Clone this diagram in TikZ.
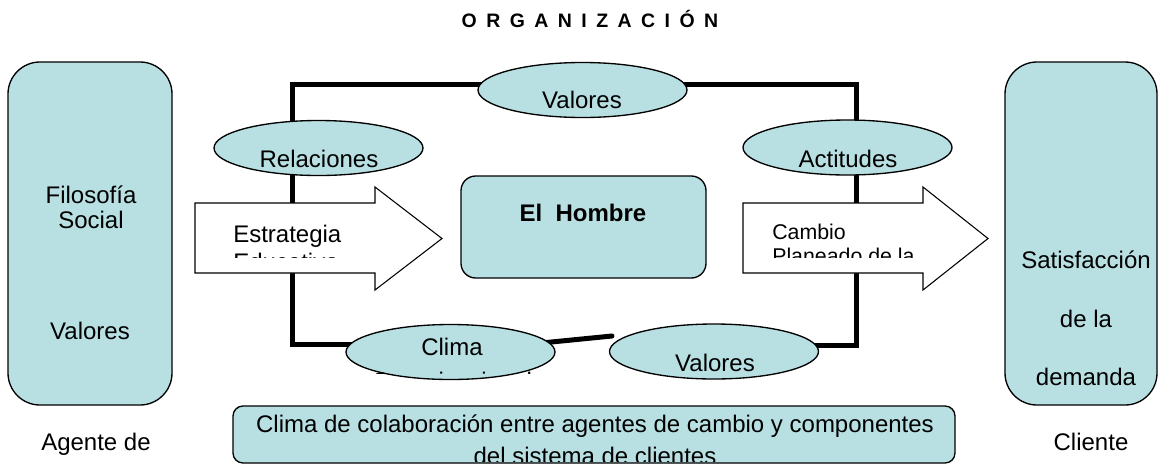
\documentclass[tikz,border=0pt]{standalone}
\usepackage{fontspec}
\setmainfont{Liberation Sans}
\newfontfamily\titulofont[WordSpace=1.75]{Liberation Sans}
\usetikzlibrary{shapes.geometric,backgrounds}

\definecolor{celeste}{RGB}{184,224,227}
\newcommand{\pxu}{0.75pt}
\newcommand{\letra}{\fontsize{18}{18.75}\selectfont}

\tikzset{
  caja/.style={draw, fill=celeste, line width=1pt, inner sep=0pt},
  ovalo/.style={draw, fill=celeste, ellipse, line width=1pt, inner sep=0pt,
    minimum width=209*\pxu, minimum height=55*\pxu},
  lazo/.style={line width=5*\pxu},
  flecha/.style={draw, fill=white, line width=0.8pt},
  texto/.style={anchor=base, inner sep=0pt, font=\letra},
}

\begin{document}
\begin{tikzpicture}[x=\pxu, y=-\pxu]
\useasboundingbox (0,0) rectangle (1161,465);

%% Titulo
\node[anchor=base, inner sep=0pt,
  font=\titulofont\fontsize{14.6}{16}\selectfont\bfseries] (titulo)
  at (590,27) {O R G A N I Z A C I Ó N};

%% Agente de cambio (izquierda)
\node[caja, rounded corners=24pt, minimum width=164*\pxu,
  minimum height=343*\pxu] (filosofia) at (90,233.5) {};
\node[texto, align=center] (filotxt) at (91,228) {Filosofía\\Social};
\node[texto] (valizq) at (90,339) {Valores};
\node[texto] (agente) at (96,450) {Agente de};

%% Cliente (derecha)
\node[caja, rounded corners=24pt, minimum width=152*\pxu,
  minimum height=343*\pxu] (satisf) at (1081,233.5) {};
\node[texto] (satis1) at (1086,268) {Satisfacción};
\node[texto] (satis2) at (1086,327) {de la};
\node[texto] (satis3) at (1086,385) {demanda};
\node[texto] (cliente) at (1091,450) {Cliente};

%% El hombre
\node[caja, rounded corners=11pt, minimum width=245*\pxu,
  minimum height=102*\pxu] (hombre) at (583.5,227) {};
\node[texto, font=\letra\bfseries] (hombretxt) at (583,221) {El\ \ Hombre};

%% Ovalos
\node[ovalo] (valsup) at (582.5,90) {};
\node[texto] (valsuptxt) at (582,108) {Valores};
\node[ovalo] (relac) at (318.5,148) {};
\node[texto] (relactxt) at (319,167) {Relaciones};
\node[ovalo] (actit) at (847.5,147.5) {};
\node[texto] (actittxt) at (848,167) {Actitudes};
\node[ovalo] (clima) at (450.5,352) {};
\node[ovalo] (valinf) at (714,351.5) {};
\begin{scope}
  \clip (346,325) rectangle (555,373);
  \node[texto, align=center, font=\fontsize{18}{25.5}\selectfont]
    (climatxt) at (452,389) {Clima\\Organizacional};
\end{scope}
\begin{scope}
  \clip (610,325) rectangle (818,372);
  \node[texto] (valinftxt) at (715,371) {Valores};
\end{scope}

%% Flechas
\draw[flecha] (195,203) -- (375,203) -- (375,187) -- (442,238.5)
  -- (375,290) -- (375,273) -- (195,273) -- cycle;
\begin{scope}
  \clip (195,203) rectangle (375,257.5);
  \node[texto, anchor=base west, align=left,
    font=\fontsize{18}{21}\selectfont] (estrtxt) at (233,270)
    {Estrategia\\Educativa};
\end{scope}
\draw[flecha] (743,203) -- (923,203) -- (923,187) -- (988,238.5)
  -- (923,290) -- (923,273) -- (743,273) -- cycle;
\begin{scope}
  \clip (743,203) rectangle (923,257.5);
  \node[texto, anchor=base west, align=left,
    font=\fontsize{16}{18}\selectfont] (cambiotxt) at (772,287)
    {Cambio\\Planeado de la\\Organización};
\end{scope}

%% Clima de colaboracion
\node[caja, rounded corners=7.5pt, minimum width=722*\pxu,
  minimum height=57*\pxu] (colab) at (594,434.5) {};
\begin{scope}
  \clip (233,406) rectangle (955,461);
  \node[texto, align=center, font=\fontsize{18}{24}\selectfont]
    (colabtxt) at (595,464)
    {Clima de colaboración entre agentes de cambio y componentes\\del sistema de clientes};
\end{scope}

%% Lazo
\coordinate (esqsi) at (292,84);
\coordinate (esqsd) at (856,84);
\coordinate (esqii) at (292,344);
\coordinate (esqid) at (856,345);
\coordinate (diagfin) at (612,336);
\begin{pgfonlayer}{background}
  \draw[lazo] (esqii -| clima.center) -- (esqii) -- (esqsi) -- (esqsd)
    -- (esqid) -- (esqid -| valinf.center);
  \draw[lazo, line cap=round] (clima.center) -- (diagfin);
\end{pgfonlayer}

\end{tikzpicture}
\end{document}
